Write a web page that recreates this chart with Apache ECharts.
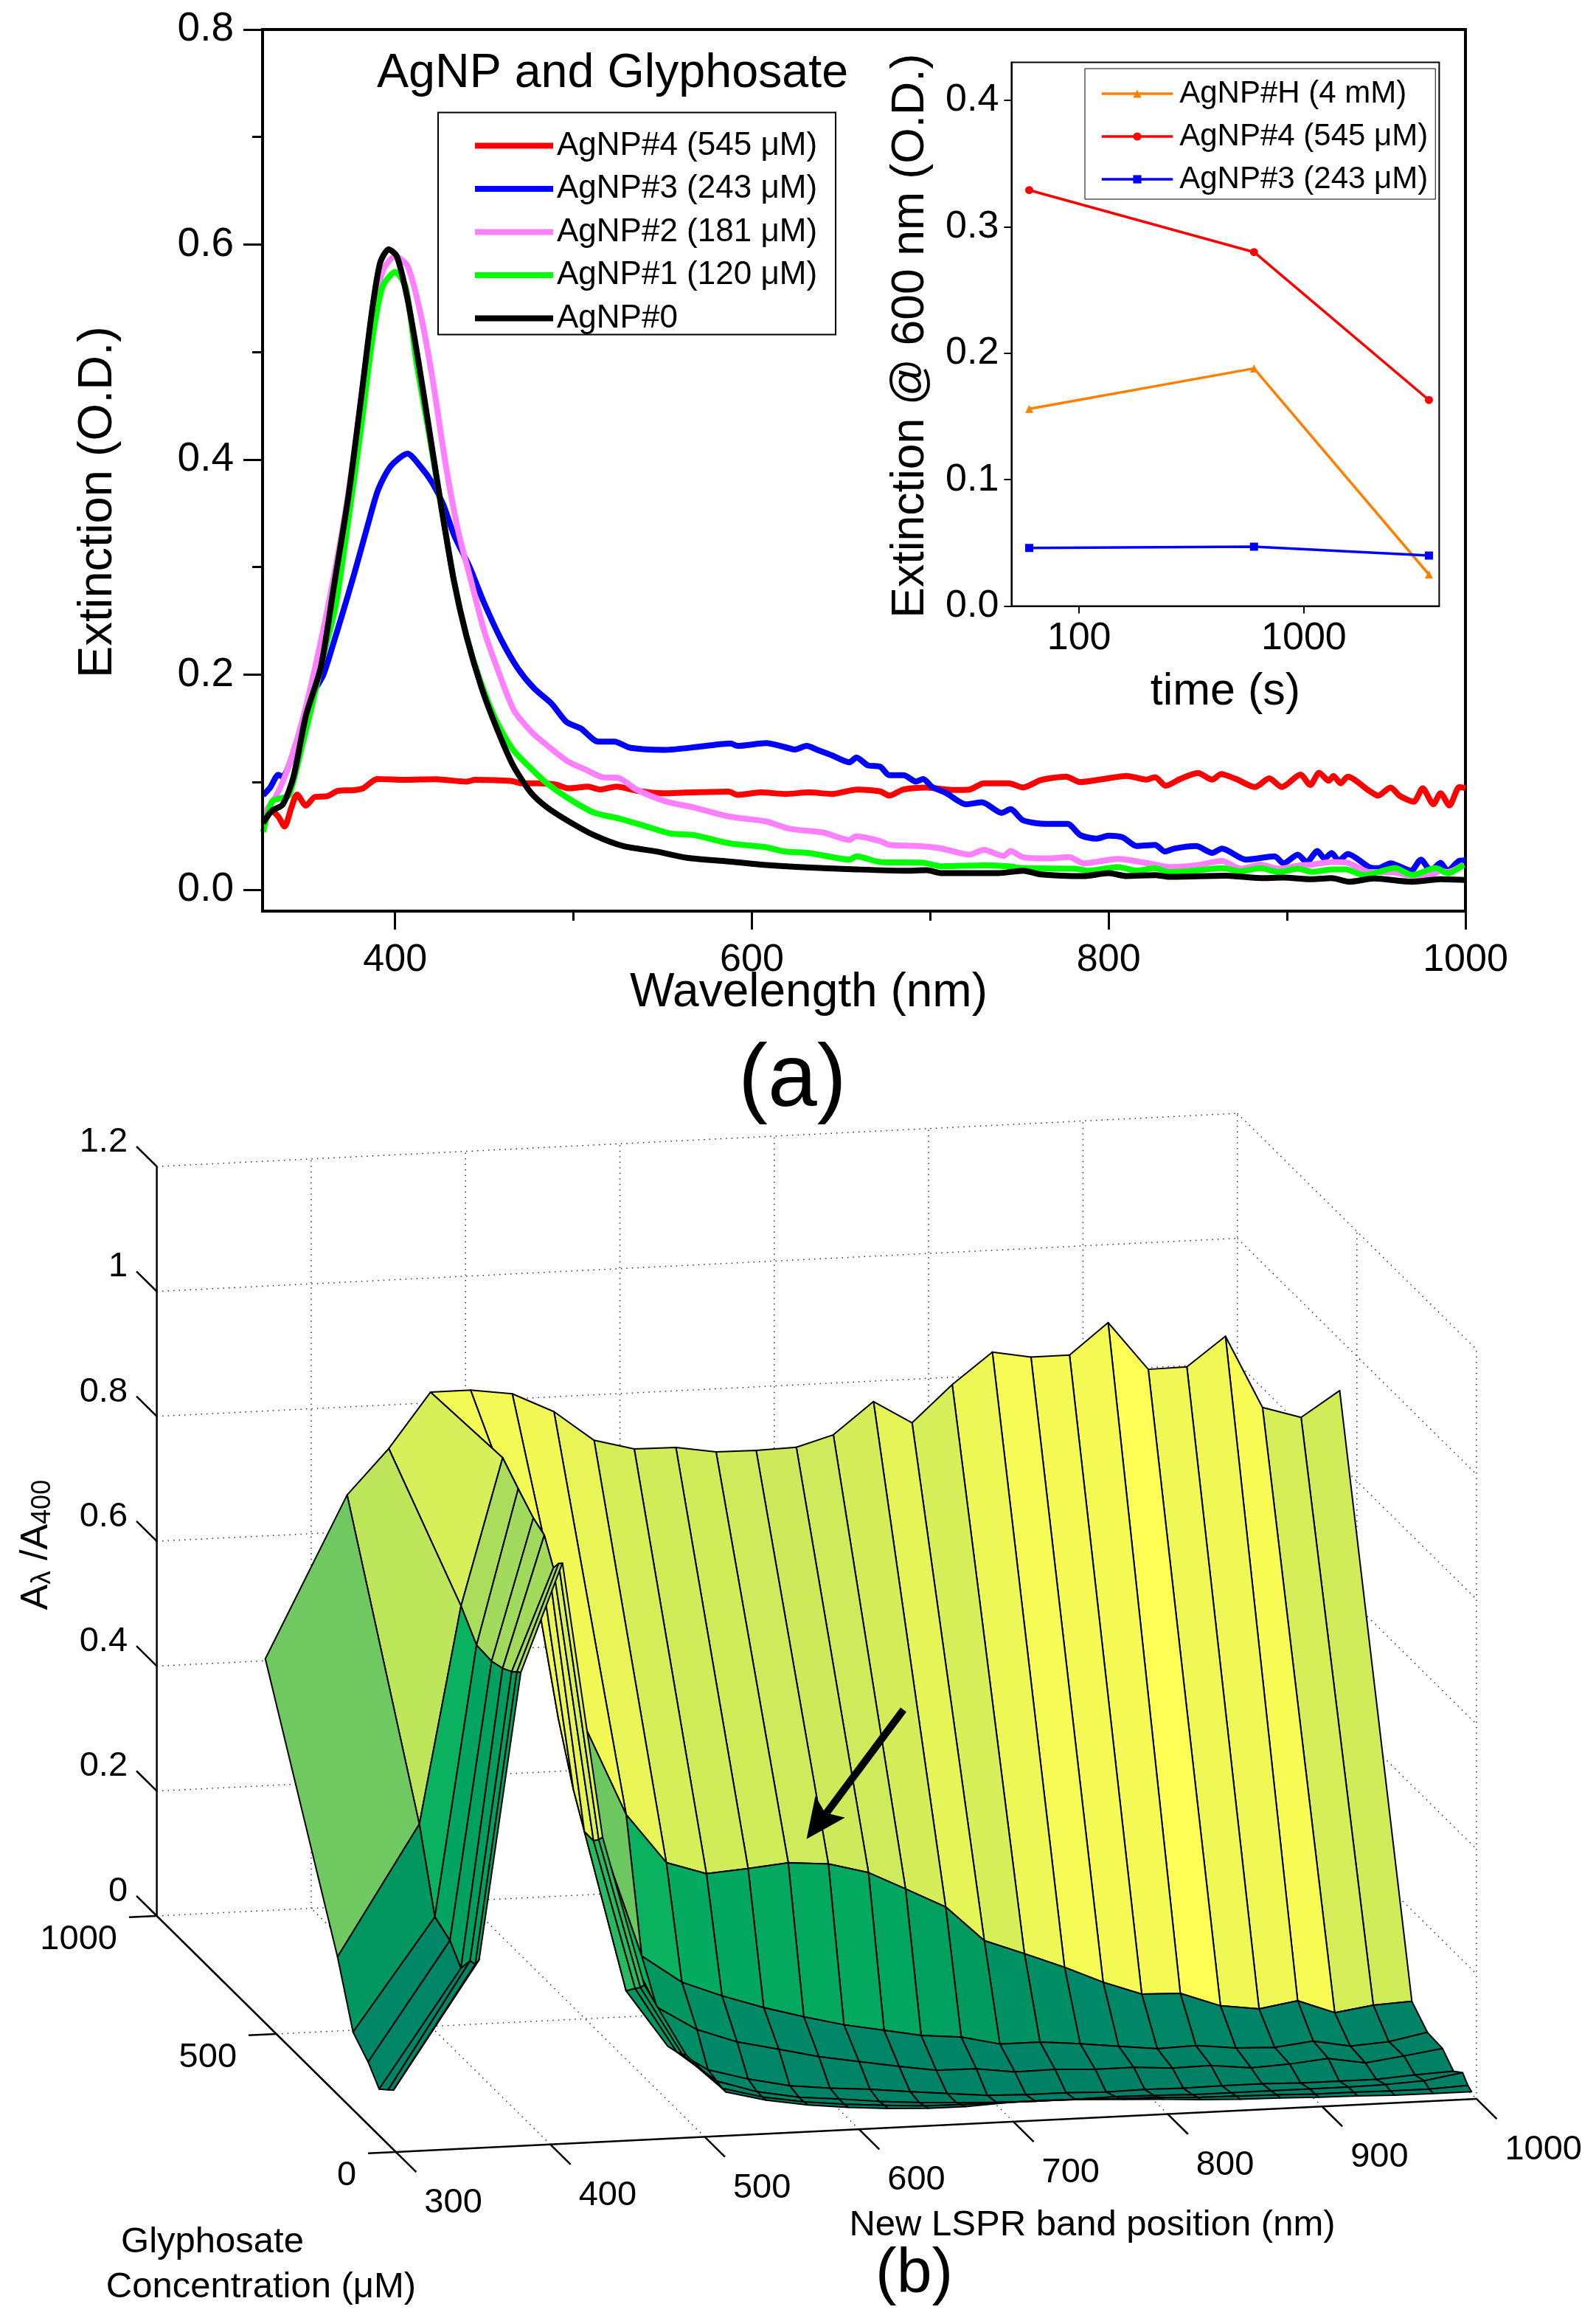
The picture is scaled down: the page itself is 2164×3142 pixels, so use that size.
<!DOCTYPE html>
<html><head><meta charset="utf-8">
<style>html,body{margin:0;padding:0;background:#fff}#c{width:2164px;height:3142px}</style>
<script src="https://cdn.jsdelivr.net/npm/echarts@6/dist/echarts.min.js"></script>
</head><body><div id="c"></div>
<script>
// ---------- panel (a), main spectra ----------
const wl4=[326,331,334.5,338,342,345,350,355,362,368,377,382,390,406,423,440,445,465,471,480,490,497,508,515,524,536,550,563,587,592,605,619,632,645,659,672,677,685,698,712,722,730,744,752,762,776,784,797,810,821,826,832,840,850,858,863,871.5,882,890,897,907.5,913,918,923.4,926,930,934,946,951,958,963,971,976,982,986,991,996.6,1000];
const ext4=[.068,.0725,.068,.0587,.077,.0885,.0782,.0862,.0869,.0919,.0926,.0942,.1029,.1022,.1027,.1004,.1022,.1011,.0988,.0988,.0977,.0942,.0958,.0931,.0958,.0919,.0896,.0903,.0912,.0881,.0904,.089,.0904,.089,.0931,.0913,.0874,.0931,.095,.0927,.0931,.0989,.0989,.095,.1019,.1051,.1,.1028,.1058,.1023,.1046,.0966,.1028,.1085,.1023,.1074,.1028,.0954,.1035,.0954,.1069,.0973,.1087,.1012,.1058,.0989,.1051,.092,.0874,.095,.0874,.0817,.0943,.0794,.0897,.0783,.0954,.0943];
const wl3=[326,330,334.5,337,340.6,347.8,353.7,359.6,365.6,370.3,377.4,384.5,390.5,397.6,407,414,421,427,433,441.5,449.8,459.3,468.7,478,487.7,496,504,513.8,523,531.6,551.8,570.7,588,592,608,618.6,624,630.6,637,645,654.6,658.6,665,672,677,685,692,696,701,709,720,729,740,745,752,765,777,784,793,800,808,815.6,826,831.6,837,849,858,863.5,877,893,898,906,911,917,921,925,929,934,946,951,958,969.5,975,980.6,986,990,996.6,1000];
const ext3=[.0877,.095,.1068,.105,.116,.153,.182,.199,.23,.2556,.2955,.338,.372,.394,.4054,.394,.378,.358,.33,.301,.267,.233,.206,.187,.173,.156,.15,.1377,.1377,.132,.13,.133,.136,.1337,.1362,.1325,.1303,.1337,.1298,.1248,.1184,.1229,.1156,.1142,.1064,.1064,.1005,.1028,.0955,.0897,.0794,.0812,.0714,.0748,.0645,.0611,.0611,.0508,.0474,.0501,.0485,.0405,.0416,.0354,.0382,.0405,.0341,.0382,.0279,.0309,.0245,.0325,.0256,.0359,.029,.034,.0268,.0332,.021,.0199,.0245,.0176,.0279,.0176,.0249,.0176,.0268,.0272];
const wl2=[326,333.5,340.6,347.8,353.7,362,372,379,386,393,400,407,414,421,428.4,435.5,442.6,449.8,457,466.4,476,485,497,506.7,516,525.7,535,551.8,568,585,592,608,618.6,626.6,640,654.6,658.6,672,677,693,706.5,722,730,741,745,752,765,778,786,805,826,834,849,863.5,874,885,895.5,906,914,925,934,946,958,970,980.6,986,990,999];
const ext2=[.07,.0877,.116,.156,.196,.26,.35,.43,.52,.575,.589,.58,.5376,.475,.395,.3325,.287,.2414,.207,.1674,.1475,.1344,.119,.1116,.1047,.1036,.0933,.082,.0762,.0688,.0668,.0634,.0577,.0554,.0531,.0462,.0497,.0451,.0416,.0405,.0382,.0325,.037,.0313,.0359,.0302,.029,.0302,.0245,.0286,.0233,.021,.0226,.0267,.0194,.0233,.0194,.0222,.0233,.0256,.0249,.0164,.0164,.013,.0135,.0176,.0164,.0233];
const wl1=[326,331,336,340.6,347.8,353.7,359.6,366.7,373.9,381,387,392.8,400,406,411.8,419,426,433,440,447.4,457,466,476,485,497,511.4,525.7,540,554,568,587,608,618.6,632,645,654.6,658.6,672,696,706.5,730,744,752,781,789,805,815.6,826,833,847.6,863.5,874,885,895.5,906,914,925,933,943,960.7,970,983.3,990,999];
const ext1=[.0535,.082,.085,.0877,.133,.173,.216,.264,.345,.43,.509,.56,.5746,.56,.492,.424,.355,.287,.2357,.196,.156,.1304,.113,.099,.085,.0717,.066,.0592,.0523,.0506,.0432,.0393,.0354,.034,.0302,.0279,.0309,.0256,.0249,.0217,.0226,.0217,.0199,.0194,.0176,.021,.0176,.0199,.0165,.0176,.0199,.0171,.0199,.0165,.0194,.0165,.0188,.0188,.0135,.0199,.0135,.0199,.0153,.0233];
const wl0=[326,331,337,343,350,358.4,365.6,373.9,381,387,391.6,396.4,401,407,413,419,426,433,440,448.6,457,466,476,485.3,497,511.4,528,547,563.6,587,605,626.6,658.6,685,698,706.5,738,752,762,786,800,810,826,834,866,885,898,914,925,935,948.7,970,986,1000];
const ext0=[.062,.0734,.079,.1047,.1617,.207,.281,.3667,.458,.5376,.583,.5956,.589,.549,.492,.429,.355,.287,.2357,.187,.15,.116,.0905,.0763,.0638,.0507,.0404,.0353,.0296,.0262,.0233,.021,.0188,.0176,.018,.0153,.0153,.0176,.0142,.0126,.0153,.0126,.0135,.0119,.013,.0107,.0112,.0096,.0107,.0073,.0103,.0073,.0096,.0089];
const mainNames=['AgNP#4 (545 μM)','AgNP#3 (243 μM)','AgNP#2 (181 μM)','AgNP#1 (120 μM)','AgNP#0'];
const mainXTicks=[400,600,800,1000], mainXMinor=[500,700,900];
const mainYTicks=[0,.2,.4,.6,.8], mainYMinor=[.1,.3,.5,.7];
// ---------- panel (a), inset ----------
const insetTime=[60,600,3600];
const insetH=[.156,.188,.025], inset4=[.329,.28,.163], inset3=[.046,.047,.04];
const insetNames=['AgNP#H (4 mM)','AgNP#4 (545 μM)','AgNP#3 (243 μM)'];
const insetXTicks=[100,1000], insetXMinor=[60,70,80,90,200,300,400,500,600,700,800,900,2000,3000,4000];
const insetYTicks=[0,.1,.2,.3,.4], insetYMinor=[.05,.15,.25,.35];
// ---------- panel (b), surface ----------
const surfWl=[304,357,384,411,437,464,491,517,543,570,596,622,648,672,698,723,749,775,800,825,850,876,901,926,950,975,1000];
const surfConc=[572,270,205,142,96,58,36,20];
const surfZ572=[.573,.829,.9,.987,.987,.978,.946,.897,.88,.879,.869,.868,.87,.887,.937,.9,.958,1.007,.996,.996,1.045,.967,.968,1.014,.897,.878,.918];
const surfZ270=[.21,.416,.762,.996,.79,.561,.415,.335,.314,.319,.325,.32,.303,.274,.242,.185,.161,.136,.109,.087,.085,.062,.054,.064,.042,.051,.054];
const surfZ205=[.114,.292,.724,.971,.6,.408,.213,.168,.143,.121,.103,.087,.075,.064,.058,.044,.044,.038,.031,.024,.026,.019,.017,.024,.013,.017,.029];
const surfZ142=[.09,.278,.722,.948,.51,.29,.155,.116,.093,.078,.063,.052,.041,.032,.031,.023,.024,.021,.021,.017,.018,.011,.014,.02,.01,.018,.027];
const surfZ96=[.064,.251,.728,.938,.46,.202,.11,.069,.051,.037,.03,.025,.018,.012,.006,.004,.004,.002,.003,.002,.003,.003,.001,.001,.001,.005,.008];
const surfZ58=[.077,.277,.737,.9,.46,.22,.115,.065,.045,.033,.027,.02,.015,.012,.009,.008,.008,.009,.008,.006,.006,.006,.006,.006,.007,.01,.02];
const surfZ36=[.085,.28,.745,.915,.47,.23,.12,.062,.045,.034,.027,.022,.018,.017,.017,.017,.016,.014,.013,.01,.009,.008,.006,.006,.005,.005,.008];
const surfZ20=[.1,.293,.75,.922,.48,.24,.125,.062,.046,.035,.028,.023,.02,.02,.023,.024,.022,.019,.016,.0125,.01,.009,.007,.006,.0045,.004,.004];
const surfZ=[surfZ572,surfZ270,surfZ205,surfZ142,surfZ96,surfZ58,surfZ36,surfZ20];
const tickWl=[300,400,500,600,700,800,900,1000];
const tickConc=[0,500,1000];
const tickZ=[0,.2,.4,.6,.8,1,1.2];

// orthographic view of the 3-D box onto the page-sized hidden axes of the third grid
function project(w,c,z){
  return [536.8+(w-300)*2.093-c*.3242, 2917-(w-300)*.1029-c*.32-z*846.5];
}
const colorStops=[[0,0,128,102],[.13,0,136,104],[.155,0,141,102],[.21,2,150,96],[.274,0,160,96],[.32,2,169,95],[.416,10,177,94],[.56,108,199,96],[.72,160,218,92],[.76,169,221,92],[.83,190,230,90],[.87,207,234,90],[.9,215,239,88],[.96,238,247,85],[1.045,255,255,85]];
function faceColor(z){
  for(let i=1;i<colorStops.length;i++){
    if(z<=colorStops[i][0]){
      const a=colorStops[i-1],b=colorStops[i],t=(z-a[0])/(b[0]-a[0]);
      return 'rgb('+[1,2,3].map(k=>Math.round(a[k]+(b[k]-a[k])*t)).join(',')+')';
    }
  }
  return 'rgb(255,255,85)';
}
// faces, far to near: high concentration first, high wavelength first
const faces=[];
for(let r=0;r<surfConc.length-1;r++) for(let k=surfWl.length-2;k>=0;k--) faces.push([r,k]);

// frame segments: [w1,c1,z1,w2,c2,z2,solid]
const frame=[];
tickZ.forEach(z=>{
  frame.push([300,1000,z,1000,1000,z,0]);
  frame.push([1000,1000,z,1000,0,z,0]);
  frame.push([300,1000,z,300,1085,z,1]);
});
tickWl.slice(1).forEach(w=>frame.push([w,1000,0,w,1000,1.2,0]));
[500,0].forEach(c=>frame.push([1000,c,0,1000,c,1.2,0]));
tickWl.slice(1,7).forEach(w=>frame.push([w,0,0,w,1000,0,0]));
frame.push([300,500,0,1000,500,0,0]);
frame.push([300,1000,0,300,1000,1.2,1]);
frame.push([300,0,0,300,1000,0,1]);
frame.push([300,0,0,1000,0,0,1]);
tickWl.forEach(w=>frame.push([w,0,0,w,-85,0,1]));
tickConc.forEach(c=>frame.push([300,c,0,282,c,0,1]));

const frameLabels=[];
tickZ.forEach(z=>{const p=project(300,1085,z);frameLabels.push([p[0]-12,p[1]-6,String(z),'right']);});
tickConc.forEach(c=>{const p=project(282,c,0);frameLabels.push([p[0]-16,p[1]+30,String(c),'right']);});
tickWl.forEach(w=>{const p=project(w,-85,0);frameLabels.push([p[0]+11,p[1]+42,String(w),'left']);});

const FONT='"Liberation Sans",Arial,sans-serif';
const pairs=(xs,ys)=>xs.map((x,i)=>[x,ys[i]]);
function mainSeries(name,xs,ys,color){
  return {type:'line',name,data:pairs(xs,ys),xAxisIndex:0,yAxisIndex:0,showSymbol:false,symbol:'none',smooth:.25,
    lineStyle:{color,width:8,join:'round'},itemStyle:{color},z:3,animation:false,silent:true};
}
function insetSeries(name,ys,color,symbol){
  return {type:'line',name:'inset '+name,data:pairs(insetTime,ys),xAxisIndex:2,yAxisIndex:2,symbol,symbolSize:11,showSymbol:true,
    lineStyle:{color,width:3.5},itemStyle:{color},z:6,animation:false,silent:true};
}
const majorTick=(len,w,vals)=>({show:true,length:len,lineStyle:{color:'#000',width:w},customValues:vals});
const baseAxis={axisLine:{show:false,onZero:false},axisLabel:{show:false},splitLine:{show:false}};

const option={
  backgroundColor:'#fff',animation:false,
  textStyle:{fontFamily:FONT,color:'#000'},
  title:[
    {text:'AgNP and Glyphosate',left:511,top:68,padding:0,textStyle:{fontSize:64.6,fontWeight:'normal',fontFamily:FONT,color:'#000'}},
    {text:'(a)',left:1001,top:1406,padding:0,textStyle:{fontSize:120,fontWeight:'normal',fontFamily:FONT,color:'#000'}},
    {text:'(b)',left:1187,top:3040,padding:0,textStyle:{fontSize:86,fontWeight:'normal',fontFamily:FONT,color:'#000'}}
  ],
  grid:[
    {left:356,top:40,width:1631,height:1195,show:true,borderColor:'#000',borderWidth:4,backgroundColor:'#fff',z:1},
    {left:1371.4,top:84.6,width:580,height:737,show:true,borderColor:'#000',borderWidth:2,backgroundColor:'#fff',z:5},
    {left:0,top:0,width:2164,height:3142,show:false}
  ],
  xAxis:[
    {type:'value',gridIndex:0,min:325.7,max:1000,position:'bottom',z:4,
     name:'Wavelength (nm)',nameLocation:'middle',nameGap:79,nameMoveOverlap:false,nameTextStyle:{fontSize:64,color:'#000',padding:[0,150,0,0]},
     axisLine:{show:true,onZero:false,lineStyle:{color:'#000',width:4}},splitLine:{show:false},
     axisTick:majorTick(25,3,mainXTicks),
     axisLabel:{show:true,margin:41,fontSize:52,color:'#000',customValues:mainXTicks,formatter:v=>String(v)}},
    Object.assign({type:'value',gridIndex:0,min:325.7,max:1000,position:'bottom',axisTick:majorTick(13,3,mainXMinor)},baseAxis),
    {type:'log',logBase:10,gridIndex:1,min:50,max:4000,position:'bottom',z:6,
     name:'time (s)',nameLocation:'middle',nameGap:86,nameTextStyle:{fontSize:61,color:'#000'},
     axisLine:{show:true,onZero:false,lineStyle:{color:'#000',width:2}},splitLine:{show:false},minorTick:{show:false},
     axisTick:majorTick(10,2,insetXTicks),
     axisLabel:{show:true,margin:18,fontSize:52,color:'#000',customValues:insetXTicks,formatter:v=>String(Math.round(v))}},
    Object.assign({type:'log',logBase:10,gridIndex:1,min:50,max:4000,position:'bottom',axisTick:majorTick(5,2,insetXMinor)},baseAxis),
    {type:'value',gridIndex:2,min:0,max:2164,show:false}
  ],
  yAxis:[
    {type:'value',gridIndex:0,min:-.02,max:.8,position:'left',z:4,
     name:'Extinction (O.D.)',nameLocation:'middle',nameGap:190,nameRotate:90,nameTextStyle:{fontSize:65,color:'#000',padding:[0,86,0,0]},
     axisLine:{show:true,lineStyle:{color:'#000',width:4}},splitLine:{show:false},
     axisTick:majorTick(26,3,mainYTicks),
     axisLabel:{show:true,margin:39,fontSize:55,color:'#000',customValues:mainYTicks,formatter:v=>Number(v).toFixed(1)}},
    Object.assign({type:'value',gridIndex:0,min:-.02,max:.8,position:'left',axisTick:majorTick(14,3,mainYMinor)},baseAxis),
    {type:'value',gridIndex:1,min:0,max:.43,position:'left',z:6,
     name:'Extinction @ 600 nm (O.D.)',nameLocation:'middle',nameGap:105,nameRotate:90,nameTextStyle:{fontSize:62.5,color:'#000',padding:[0,4,0,0]},
     axisLine:{show:true,lineStyle:{color:'#000',width:2}},splitLine:{show:false},
     axisTick:majorTick(10,2,insetYTicks),
     axisLabel:{show:true,margin:17,fontSize:52,color:'#000',customValues:insetYTicks,formatter:v=>Number(v).toFixed(1)}},
    Object.assign({type:'value',gridIndex:1,min:0,max:.43,position:'left',axisTick:majorTick(5,2,insetYMinor)},baseAxis),
    {type:'value',gridIndex:2,min:0,max:3142,inverse:true,show:false}
  ],
  legend:[
    {orient:'vertical',left:594,top:152.6,data:mainNames,selectedMode:false,z:8,
     backgroundColor:'#fff',borderColor:'#000',borderWidth:2,padding:[23,25,0,46],
     itemWidth:106,itemHeight:44,itemGap:14.5,textStyle:{fontSize:44,color:'#000',fontFamily:FONT},
     lineStyle:{width:8},itemStyle:{opacity:0}},
    {orient:'vertical',left:1471,top:93,data:insetNames.map(n=>'inset '+n),selectedMode:false,z:8,
     backgroundColor:'#fff',borderColor:'#000',borderWidth:1,padding:[13,10,6,21],
     itemWidth:96.5,itemHeight:14,itemGap:16,textStyle:{fontSize:42,color:'#000',fontFamily:FONT,padding:[0,0,0,4]},
     lineStyle:{width:3.5},
     formatter:n=>n.replace('inset ','')}
  ],
  series:[
    mainSeries(mainNames[0],wl4,ext4,'#FF0000'),
    mainSeries(mainNames[1],wl3,ext3,'#0000FF'),
    mainSeries(mainNames[2],wl2,ext2,'#FF80FF'),
    mainSeries(mainNames[3],wl1,ext1,'#00FF00'),
    mainSeries(mainNames[4],wl0,ext0,'#000000'),
    insetSeries(insetNames[0],insetH,'#FF8000','triangle'),
    insetSeries(insetNames[1],inset4,'#FF0000','circle'),
    insetSeries(insetNames[2],inset3,'#0000FF','rect'),
    {type:'custom',name:'frame',xAxisIndex:4,yAxisIndex:4,coordinateSystem:'cartesian2d',clip:false,silent:true,animation:false,z:2,
     data:frame.map((f,i)=>[i,0]),encode:{x:0,y:1},
     renderItem(params,api){
       const f=frame[params.dataIndex];
       const a=api.coord(project(f[0],f[1],f[2])),b=api.coord(project(f[3],f[4],f[5]));
       return {type:'line',shape:{x1:a[0],y1:a[1],x2:b[0],y2:b[1]},
         style:f[6]?{stroke:'#000',lineWidth:2.5,fill:null}:{stroke:'#333',lineWidth:1.5,lineDash:[1.5,6],fill:null}};
     }},
    {type:'custom',name:'surface',xAxisIndex:4,yAxisIndex:4,coordinateSystem:'cartesian2d',clip:false,silent:true,animation:false,z:3,
     data:faces,encode:{x:0,y:1},
     renderItem(params,api){
       const r=faces[params.dataIndex][0],k=faces[params.dataIndex][1];
       const corners=[[r,k],[r,k+1],[r+1,k+1],[r+1,k]];
       const pts=corners.map(q=>api.coord(project(surfWl[q[1]],surfConc[q[0]],surfZ[q[0]][q[1]])));
       return {type:'polygon',shape:{points:pts},style:{fill:faceColor(surfZ[r][k]),stroke:'#000',lineWidth:2,lineJoin:'round'}};
     }},
    {type:'custom',name:'frame labels',xAxisIndex:4,yAxisIndex:4,coordinateSystem:'cartesian2d',clip:false,silent:true,animation:false,z:4,
     data:frameLabels.map((f,i)=>[i,0]),encode:{x:0,y:1},
     renderItem(params,api){
       const f=frameLabels[params.dataIndex];
       const p=api.coord([f[0],f[1]]);
       return {type:'text',x:p[0],y:p[1],style:{text:f[2],fontSize:47,fontFamily:FONT,fill:'#000',align:f[3],verticalAlign:'middle'}};
     }}
  ],
  graphic:[
    {type:'text',x:1481,y:3016,z:20,style:{text:'New LSPR band position (nm)',fontSize:49,fontFamily:FONT,fill:'#000',align:'center',verticalAlign:'middle'}},
    {type:'text',x:288,y:3039,z:20,style:{text:'Glyphosate',fontSize:49,fontFamily:FONT,fill:'#000',align:'center',verticalAlign:'middle'}},
    {type:'text',x:354,y:3100,z:20,style:{text:'Concentration (μM)',fontSize:49,fontFamily:FONT,fill:'#000',align:'center',verticalAlign:'middle'}},
    {type:'text',x:50,y:2094,rotation:Math.PI/2,z:20,style:{text:'{a|A}{b|λ}{a| /A}{b|400}',fontFamily:FONT,fill:'#000',align:'center',verticalAlign:'middle',
      rich:{a:{fontSize:52,fontFamily:FONT,fill:'#000',verticalAlign:'top'},b:{fontSize:36,fontFamily:FONT,fill:'#000',verticalAlign:'bottom',padding:[16,0,0,0]}}}},
    {type:'line',z:20,shape:{x1:1225,y1:2317.5,x2:1115,y2:2465},style:{stroke:'#000',lineWidth:10}},
    {type:'polygon',z:20,shape:{points:[[1095,2490.7],[1106,2437],[1118,2458],[1143,2464]]},style:{fill:'#000',stroke:'#000',lineWidth:2}}
  ]
};
const chart=echarts.init(document.getElementById('c'),null,{renderer:'canvas',width:2164,height:3142,devicePixelRatio:1});
chart.setOption(option);
</script></body></html>
